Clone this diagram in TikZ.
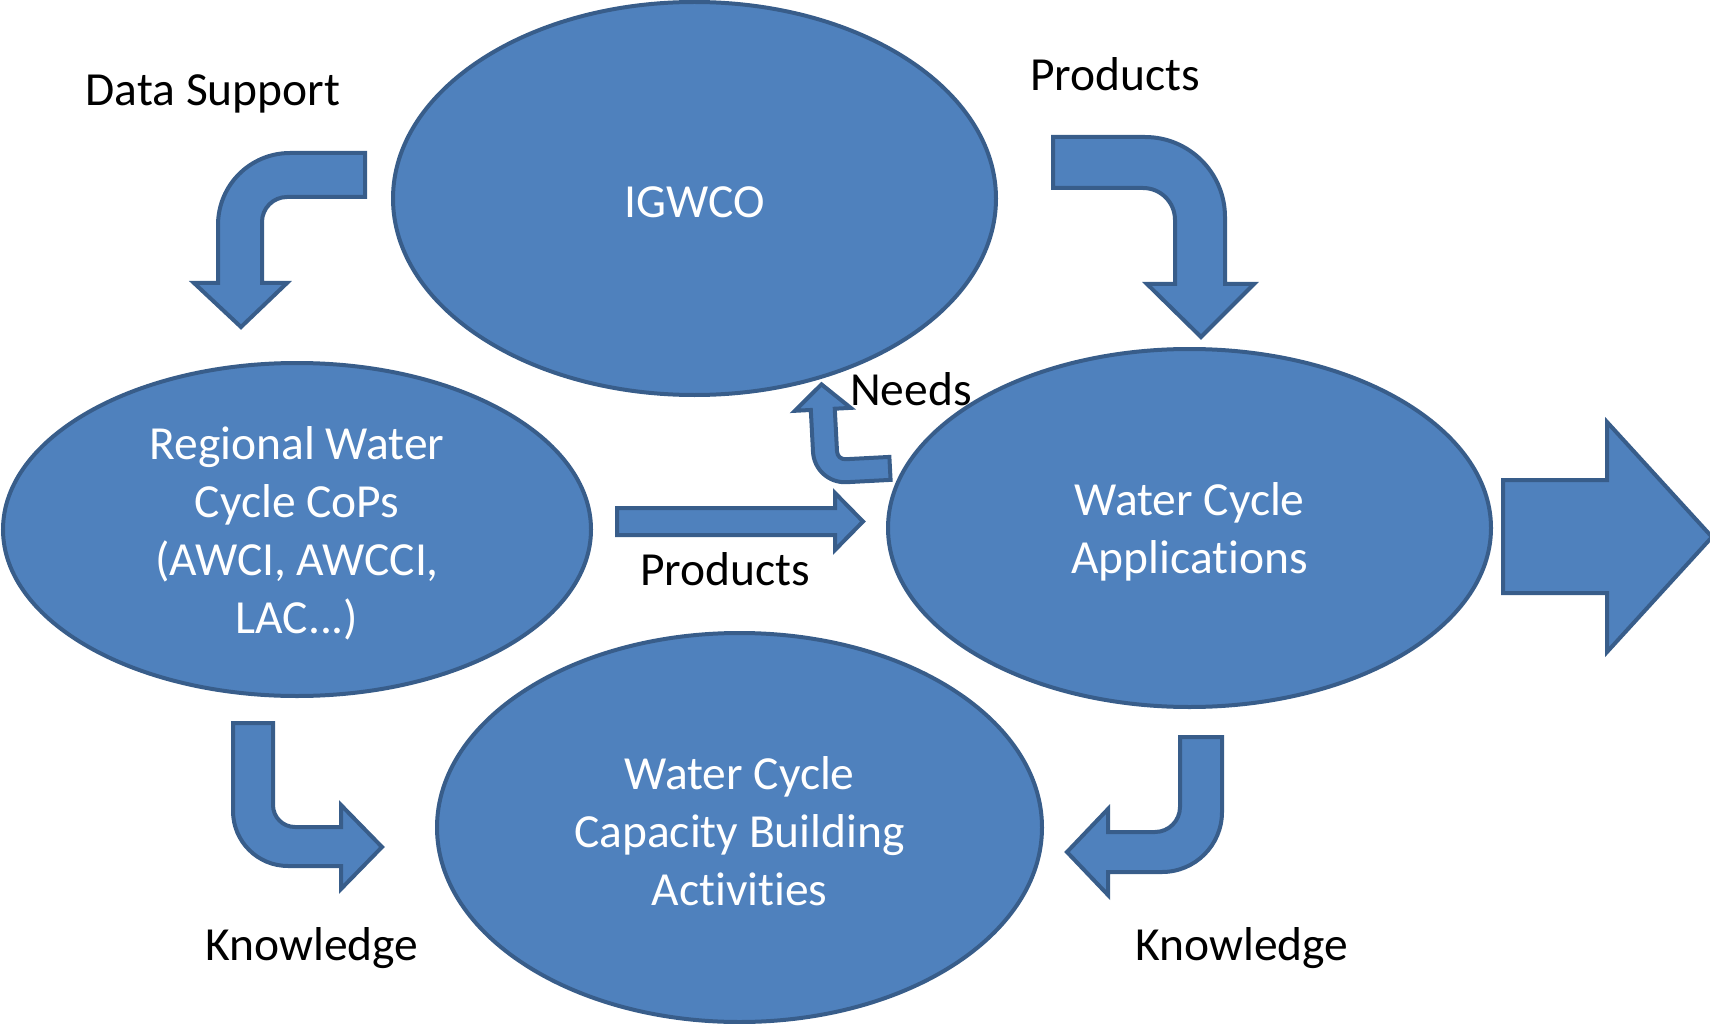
\documentclass[tikz,border=0pt]{standalone}
\usepackage{fontspec}
\setmainfont[Ligatures={NoCommon}]{Carlito}
\usetikzlibrary{shapes.geometric}
\definecolor{blockfill}{HTML}{4F81BD}
\definecolor{blockline}{HTML}{385D8A}
\begin{document}
\begin{tikzpicture}[x=1pt,y=-1pt,
  bubble/.style={ellipse, fill=blockfill, draw=blockline, line width=4pt, inner sep=0pt},
  bubbletext/.style={text=white, align=center, inner sep=0pt,
    font=\fontsize{47.5}{58}\selectfont},
  blockarrow/.style={fill=blockfill, draw=blockline, line width=4pt, line join=miter},
  caption/.style={font=\fontsize{47.5}{58}\selectfont, text=black,
    inner sep=0pt, anchor=base}]
\useasboundingbox (0,0) rectangle (1710,1024);

% the four communities
\node[bubble, minimum width=603pt, minimum height=393pt] (igwco) at (694.5,198.5) {};
\node[bubble, minimum width=588pt, minimum height=333pt] (regional) at (297,529.5) {};
\node[bubble, minimum width=603pt, minimum height=358pt] (apps) at (1189.5,528) {};
\node[bubble, minimum width=605pt, minimum height=389pt] (capacity) at (739.5,827.5) {};

\node[bubbletext] (igwcotext) at ([yshift=-4pt]igwco.center) {IGWCO};
\node[bubbletext] (regionaltext) at ([yshift=-4pt]regional.center)
  {Regional Water\\Cycle CoPs\\(AWCI, AWCCI,\\LAC...)};
\node[bubbletext] (appstext) at ([yshift=-4pt]apps.center) {Water Cycle\\Applications};
\node[bubbletext] (capacitytext) at ([yshift=-4pt]capacity.center)
  {Water Cycle\\Capacity Building\\Activities};

% data support: IGWCO down to the regional CoPs
\draw[blockarrow] (365,153) -- (290,153)
  .. controls (250.2,153) and (218,185.2) .. (218,225)
  -- (218,283) -- (194,283) -- (241,327) -- (287,283) -- (262,283) -- (262,222)
  .. controls (262,208.2) and (273.2,197) .. (287,197)
  -- (365,197) -- cycle;

% products: IGWCO down to the applications
\draw[blockarrow] (1053,137) -- (1145,137)
  .. controls (1189.2,137) and (1225,172.8) .. (1225,217)
  -- (1225,284) -- (1254,284) -- (1201,337) -- (1147,284) -- (1175,284) -- (1175,220)
  .. controls (1175,202.3) and (1160.7,188) .. (1143,188)
  -- (1053,188) -- cycle;

% products: regional CoPs across to the applications
\draw[blockarrow] (617,508) -- (835,508) -- (835,493) -- (863,521.5)
  -- (835,550) -- (835,535) -- (617,535) -- cycle;

% needs: applications back up to IGWCO
\draw[blockarrow, rotate around={3:(850,470)}] (826,383) -- (854,408) -- (838,408) -- (838,451)
  .. controls (838,455.4) and (841.6,459) .. (846,459)
  -- (890,459) -- (890,482) -- (846,482)
  .. controls (828.3,482) and (814,467.7) .. (814,450)
  -- (814,408) -- (798,408) -- cycle;

% knowledge: regional CoPs into capacity building
\draw[blockarrow] (233,723) -- (273,723) -- (273,805)
  .. controls (273,817.2) and (282.8,827) .. (295,827)
  -- (341,827) -- (341,805) -- (382,847) -- (341,889) -- (341,866) -- (288,866)
  .. controls (257.6,866) and (233,841.4) .. (233,811) -- cycle;

% knowledge: applications into capacity building
\draw[blockarrow] (1180,737) -- (1222,737) -- (1222,812)
  .. controls (1222,845.1) and (1195.1,872) .. (1162,872)
  -- (1108,872) -- (1108,895) -- (1067,852) -- (1108,809) -- (1108,832) -- (1155,832)
  .. controls (1168.8,832) and (1180,820.8) .. (1180,807) -- cycle;

% outcome arrow on the right
\draw[blockarrow] (1503,480) -- (1607,480) -- (1607,422) -- (1712,537)
  -- (1607,652) -- (1607,593) -- (1503,593) -- cycle;

% labels
\node[caption] (lbldata) at (213,106) {Data Support};
\node[caption] (lblprodtop) at (1115,91) {Products};
\node[caption] (lblneeds) at (911,405) {Needs};
\node[caption] (lblprodmid) at (725,585) {Products};
\node[caption] (lblknowl) at (312,960) {Knowledge};
\node[caption] (lblknowr) at (1242,960) {Knowledge};
\end{tikzpicture}
\end{document}
